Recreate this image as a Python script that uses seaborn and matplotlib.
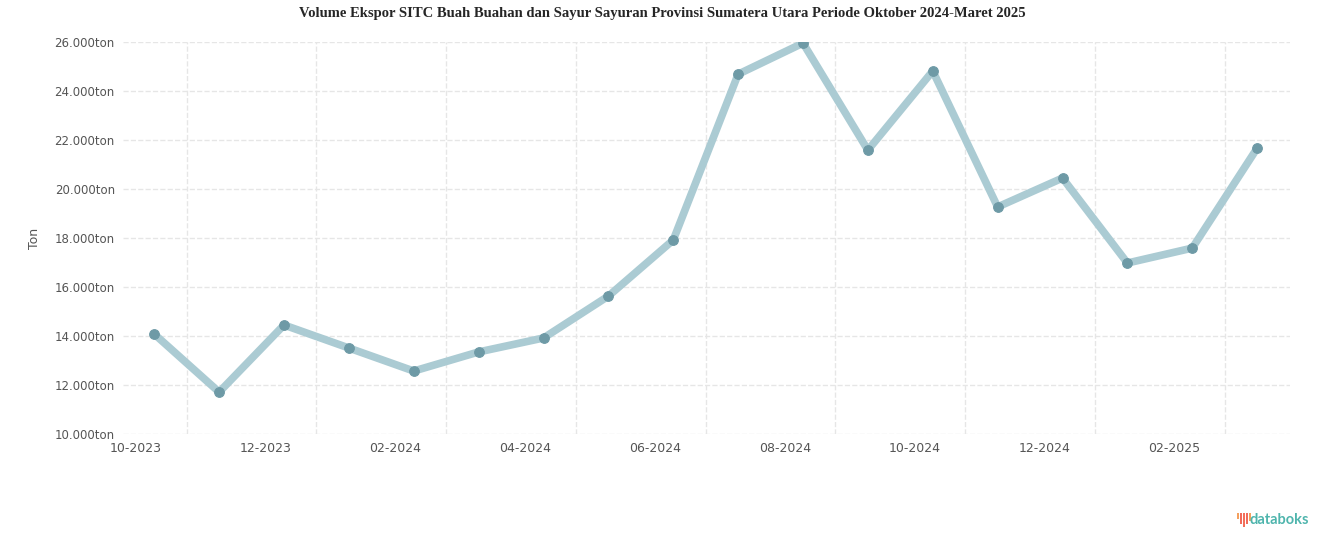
import pandas as pd
import numpy as np
import matplotlib
matplotlib.use("Agg")
import matplotlib.pyplot as plt
from matplotlib.patches import Rectangle
import seaborn as sns

# ── data ──────────────────────────────────────────
bulan = ["10-2023", "11-2023", "12-2023", "01-2024", "02-2024", "03-2024",
         "04-2024", "05-2024", "06-2024", "07-2024", "08-2024", "09-2024",
         "10-2024", "11-2024", "12-2024", "01-2025", "02-2025", "03-2025"]
volume_ton = [14080, 11710, 14450, 13510, 12570, 13350,
              13920, 15630, 17920, 24690, 25960, 21590,
              24820, 19270, 20450, 16980, 17590, 21670]
y_ticks = [10000, 12000, 14000, 16000, 18000, 20000, 22000, 24000, 26000]

df = pd.DataFrame({"idx": range(len(bulan)), "bulan": bulan, "volume": volume_ton})

# ── style ─────────────────────────────────────────
sns.set_style("white")
plt.rcParams["font.family"] = ["DejaVu Sans"]

fig = plt.figure(figsize=(13.24, 5.47), dpi=100)
ax = fig.add_axes([0.093, 0.2066, 0.881, 0.7164])

sns.lineplot(data=df, x="idx", y="volume", ax=ax, color="#abcbd3",
             linewidth=5.5, marker="o", markersize=7,
             markerfacecolor="#6e9aa6", markeredgecolor="#6e9aa6", zorder=3)

ax.set_xlim(-0.48, 17.5)
ax.set_ylim(y_ticks[0], y_ticks[-1])
ax.set_yticks(y_ticks)
ax.set_yticklabels([f"{v:,.0f}".replace(",", ".") + "ton" for v in y_ticks],
                   fontsize=8.5, color="#555555")

# label every second month (labels sit a little left of the point),
# grid lines between the labelled months
major = list(range(0, len(bulan), 2))
ax.set_xticks([i - 0.28 for i in major])
ax.set_xticklabels([bulan[i] for i in major], fontsize=9, color="#555555")
ax.set_xticks([i + 0.5 for i in major], minor=True)

ax.tick_params(axis="both", which="both", length=0, pad=6)
ax.grid(axis="y", which="major", color="#e6e6e6", linestyle="--", linewidth=1)
ax.grid(axis="x", which="minor", color="#e6e6e6", linestyle="--", linewidth=1)
ax.grid(axis="x", which="major", visible=False)
for s in ax.spines.values():
    s.set_visible(False)

ax.set_xlabel("")
ax.set_ylabel("Ton", fontsize=9, color="#555555", labelpad=10)

fig.text(0.5, 0.975,
         "Volume Ekspor SITC Buah Buahan dan Sayur Sayuran Provinsi Sumatera Utara Periode Oktober 2024-Maret 2025",
         ha="center", va="center", fontsize=10.5, fontweight="bold",
         family=["Liberation Serif"])

# databoks logo
fig.text(0.9887, 0.050, "databoks", ha="right", va="center",
         fontsize=10.5, fontweight="bold", color="#4fb5ad", family=["Lato"])
bar_h = [0.011, 0.020, 0.026, 0.020, 0.014]
bar_c = ["#f4a05e", "#f26b5b", "#f36f5a", "#f26b5b", "#f4a05e"]
for i, (h, c) in enumerate(zip(bar_h, bar_c)):
    fig.add_artist(Rectangle((0.9340 + i * 0.0023, 0.062 - h), 0.0015, h,
                             transform=fig.transFigure, color=c, lw=0))

fig.savefig("out.png", dpi=100)
